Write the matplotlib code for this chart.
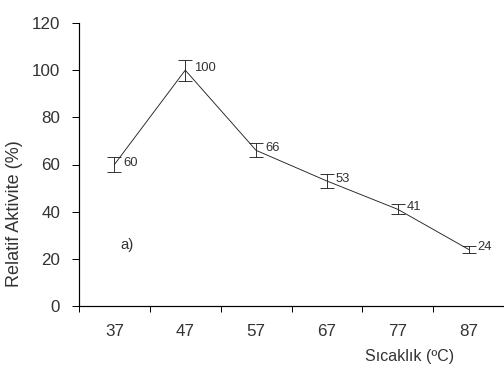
import matplotlib
matplotlib.use("Agg")
import matplotlib.pyplot as plt
import numpy as np

categories = ["37", "47", "57", "67", "77", "87"]
activity = [60, 100, 66, 53, 41, 24]
errors = [3, 4.5, 3, 2.8, 2.2, 1.5]
yticks = [0, 20, 40, 60, 80, 100, 120]

plt.rcParams['font.family'] = ['Liberation Sans Narrow', 'Liberation Sans', 'DejaVu Sans']
col = '#333333'

fig = plt.figure(figsize=(7, 376/72), dpi=72)
ax = fig.add_axes([79/504, 1-306/376, (504-79)/504, (306-23)/376])
x = np.arange(len(categories))
ax.errorbar(x, activity, yerr=errors, color='#222222', lw=0.9, capsize=7, elinewidth=0.9, capthick=0.9)
for xi, v in zip(x, activity):
    ax.annotate(str(v), (xi, v), xytext=(9, 2), textcoords='offset points', fontsize=13, color=col, va='center', ha='left')
ax.set_xlim(-0.5, len(categories)-0.5)
ax.set_ylim(0, 120)
ax.set_yticks(yticks)
ax.set_xticks(np.arange(-0.5, len(categories)-0.4, 1))
ax.set_xticklabels([])
ax.set_xticks(x, minor=True)
ax.set_xticklabels(categories, minor=True)
ax.tick_params(axis='x', which='minor', length=0, pad=18, labelsize=17, labelcolor=col)
ax.tick_params(axis='x', which='major', length=6, width=1, direction='out')
ax.tick_params(axis='y', length=7, width=1, labelsize=17, labelcolor=col, pad=12)
for s in ['top', 'right']:
    ax.spines[s].set_visible(False)
for s in ['left', 'bottom']:
    ax.spines[s].set_linewidth(1.2)
ax.text(0.08, 26, 'a)', fontsize=15, color=col, ha='left', va='center')
fig.text(410/504, 1-357/376, 'Sıcaklık (ºC)', fontsize=16, color=col, ha='center', va='center')
fig.text(15/504, 1-214/376, 'Relatif Aktivite (%)', fontsize=18, color=col, ha='center', va='center', rotation=90)
fig.savefig('out.png', dpi=72)
